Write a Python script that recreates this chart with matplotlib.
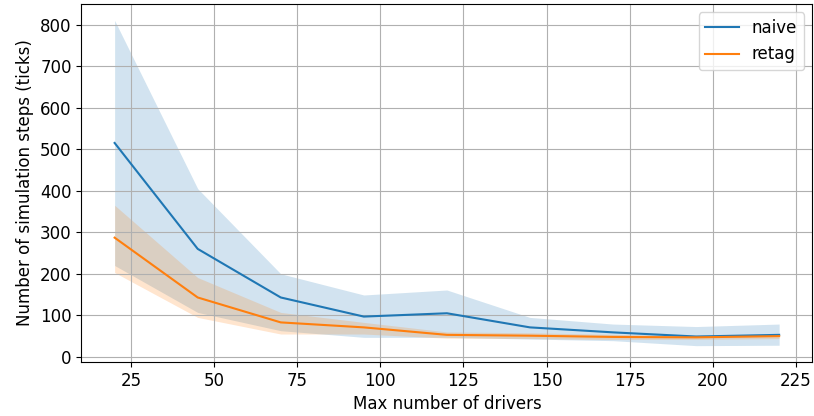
import numpy as np
import matplotlib.pyplot as plt

drivers = [20, 45, 70, 95, 120, 145, 170, 195, 220]

naive_mean = [515, 260, 143, 97, 105, 71, 59, 49, 53]
naive_low = [220, 107, 63, 47, 47, 43, 39, 27, 28]
naive_high = [810, 405, 200, 149, 161, 95, 79, 73, 79]

retag_mean = [287, 143, 83, 71, 53, 51, 48, 47, 50]
retag_low = [203, 95, 55, 55, 45, 44, 42, 42, 44]
retag_high = [365, 191, 107, 83, 60, 58, 54, 52, 55]

fig, ax = plt.subplots(figsize=(8.14, 4.16), dpi=100)
fig.subplots_adjust(left=0.1, right=0.998, top=0.99, bottom=0.13)

ax.plot(drivers, naive_mean, color="C0", label="naive")
ax.fill_between(drivers, naive_low, naive_high, color="C0", alpha=0.2, linewidth=0)
ax.plot(drivers, retag_mean, color="C1", label="retag")
ax.fill_between(drivers, retag_low, retag_high, color="C1", alpha=0.2, linewidth=0)

ax.set_xticks([25, 50, 75, 100, 125, 150, 175, 200, 225])
ax.set_yticks(np.arange(0, 801, 100))
ax.grid(True)
ax.set_xlabel("Max number of drivers", fontsize=12)
ax.set_ylabel("Number of simulation steps (ticks)", fontsize=12)
ax.tick_params(labelsize=12)
ax.legend(loc="upper right", fontsize=12)

fig.savefig("out.png")
